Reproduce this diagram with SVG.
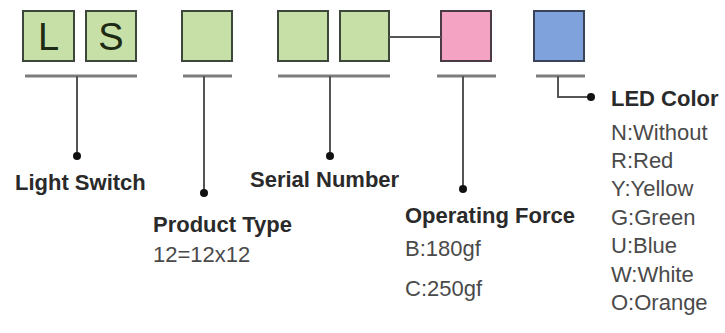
<svg xmlns="http://www.w3.org/2000/svg" width="725" height="333" viewBox="0 0 725 333">
<style>
.box{stroke:#3c463a;stroke-width:2}
.g{fill:#c6e0a8}
.p{fill:#f4a3c3;stroke:#4a3a44}
.b{fill:#7fa2dc;stroke:#3a4258}
.ul{stroke:#7d7d7d;stroke-width:3;fill:none}
.ln{stroke:#555;stroke-width:2;fill:none}
.dot{fill:#111}
.letter{font-family:"Liberation Sans",Arial,sans-serif;font-size:38px;fill:#1c2a14;text-anchor:middle}
.t{font-family:"Liberation Sans",Arial,sans-serif;font-size:22px;font-weight:bold;fill:#2a2a2a}
.v{font-family:"Liberation Sans",Arial,sans-serif;font-size:22px;fill:#4a4a4a}
</style>
<rect width="725" height="333" fill="#ffffff"/>
<g id="node-L"><rect class="box g" x="23" y="11" width="51" height="50"/><text class="letter" x="48.5" y="50">L</text></g>
<g id="node-S"><rect class="box g" x="86" y="11" width="50" height="50"/><text class="letter" x="111" y="50">S</text></g>
<g id="node-product"><rect class="box g" x="182" y="11" width="50" height="50"/></g>
<g id="node-serial1"><rect class="box g" x="278" y="11" width="50" height="50"/></g>
<g id="node-serial2"><rect class="box g" x="340" y="11" width="49" height="50"/></g>
<g id="node-force"><rect class="box p" x="441" y="11" width="50" height="50"/></g>
<g id="node-led"><rect class="box b" x="534" y="11" width="50" height="50"/></g>
<g id="connectors">
<line class="ln" x1="389" y1="37" x2="441" y2="37"/>
<line class="ul" x1="25" y1="76" x2="137" y2="76"/>
<line class="ul" x1="183" y1="76" x2="232" y2="76"/>
<line class="ul" x1="278" y1="76" x2="390" y2="76"/>
<line class="ul" x1="437" y1="76" x2="496" y2="76"/>
<line class="ul" x1="536" y1="76" x2="585" y2="76"/>
<line class="ln" x1="77" y1="76" x2="77" y2="156"/>
<circle class="dot" cx="77" cy="156" r="4"/>
<line class="ln" x1="204" y1="76" x2="204" y2="193"/>
<circle class="dot" cx="204" cy="193" r="4"/>
<line class="ln" x1="330" y1="76" x2="330" y2="156"/>
<circle class="dot" cx="330" cy="156" r="4"/>
<line class="ln" x1="463" y1="76" x2="463" y2="189"/>
<circle class="dot" cx="463" cy="189" r="4"/>
<polyline class="ln" points="558,76 558,97 590,97"/>
<circle class="dot" cx="591" cy="97" r="4"/>
</g>
<g id="label-light"><text class="t" x="15" y="190">Light Switch</text></g>
<g id="label-serial"><text class="t" x="250" y="187">Serial Number</text></g>
<g id="label-product"><text class="t" x="153" y="232">Product Type</text><text class="v" x="153" y="262">12=12x12</text></g>
<g id="label-force"><text class="t" x="405" y="223">Operating Force</text><text class="v" x="405" y="256">B:180gf</text><text class="v" x="405" y="296">C:250gf</text></g>
<g id="label-led"><text class="t" x="611" y="106">LED Color</text>
<text class="v" x="611" y="140">N:Without</text>
<text class="v" x="611" y="168">R:Red</text>
<text class="v" x="611" y="196">Y:Yellow</text>
<text class="v" x="611" y="225">G:Green</text>
<text class="v" x="611" y="253">U:Blue</text>
<text class="v" x="611" y="282">W:White</text>
<text class="v" x="611" y="310">O:Orange</text>
</g>
</svg>
